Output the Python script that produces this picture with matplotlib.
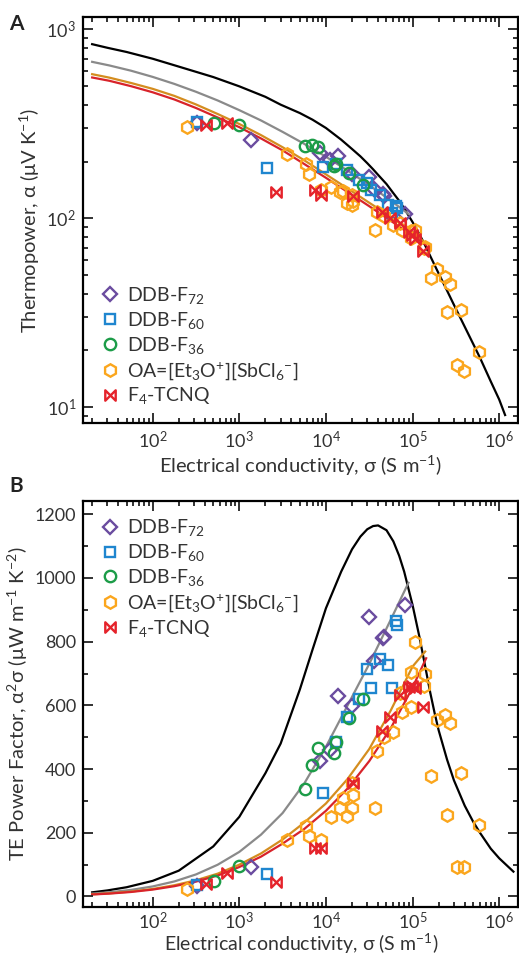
import matplotlib
matplotlib.use('Agg')
import matplotlib.pyplot as plt
import numpy as np
from matplotlib.path import Path
from matplotlib.ticker import MultipleLocator, LogLocator

plt.rcParams['font.family'] = ['Lato', 'DejaVu Sans']
plt.rcParams['mathtext.default'] = 'regular'

# ---- measured points: conductivity (S/m), thermopower (uV/K), power factor (uW m-1 K-2)
f72_sig = [322, 1355, 8560, 11170, 13700, 20230, 31800, 36000, 46960, 45300, 82100]
f72_alpha = [320, 261, 222, 203, 214, 172, 166, 143, 132, 134, 106]
f72_pf = [33, 92, 424, 460, 630, 598, 879, 740, 816, 811, 915]

f60_sig = [325, 2073, 9190, 13100, 17400, 24400, 30100, 32900, 42200, 52700, 57600, 64600, 65800]
f60_alpha = [325, 184, 188, 193, 180, 159, 154, 141, 133, 118, 107, 116, 114]
f60_pf = [37, 70, 324, 486, 563, 620, 713, 654, 745, 727, 654, 865, 853]

f36_sig = [511, 1002, 5745, 6861, 8050, 12540, 13100, 18680, 27100]
f36_alpha = [321, 312, 242, 245, 240, 190, 193, 173, 151]
f36_pf = [50, 97, 338, 413, 465, 452, 486, 560, 619]

oa_sig = [251, 3592, 5900, 6448, 8790, 11470, 14580, 15920, 17400, 19880, 20780, 20230,
          36960, 39330, 47370, 60200, 71900, 76450, 95500, 95500, 107100, 136100, 139800,
          162500, 190500, 237800, 271600, 248700, 363900, 577000, 324300, 387300]
oa_alpha = [305, 220, 193, 172, 141, 147, 138, 139, 121, 118, 124, 133,
            87, 108, 103, 92.5, 94.3, 87, 79, 86, 86.4, 69.7, 70.8,
            48.3, 53.9, 49, 44.8, 32.1, 32.7, 19.7, 16.75, 15.6]
oa_pf = [23, 176, 220, 191, 176, 249, 277, 309, 253, 277, 319, 356,
         279, 457, 502, 515, 640, 578, 594, 706, 800, 661, 700,
         379, 554, 570, 546, 256, 389, 225, 91, 94]

tcnq_sig = [413, 715, 2657, 7500, 8716, 20420, 44150, 55080, 71900, 92100, 98000, 107100, 131400]
tcnq_alpha = [312, 320, 138, 141, 133, 132, 108, 101, 94, 85, 82, 78, 67]
tcnq_pf = [39, 73, 47, 152, 152, 356, 518, 565, 633, 659, 661, 654, 594]

# ---- model curves
blk_sig = [20, 30, 50, 100, 200, 500, 1000, 2000, 3000, 5000, 7000, 1e4, 1.5e4, 2e4, 2.5e4,
           3e4, 3.5e4, 4e4, 5e4, 6e4, 7e4, 8e4, 1e5, 1.2e5, 1.4e5, 1.6e5, 1.8e5, 2e5,
           2.5e5, 3e5, 4e5, 5e5, 6e5, 8e5, 1e6, 1.17e6]
blk_alpha = [836, 800, 760, 700, 636, 560, 500, 440, 400, 361, 333, 301, 261, 233, 213,
             196, 182, 170, 152, 136, 124, 113, 95.6, 82.4, 71.8, 63.2, 56.5, 51.1,
             41.5, 34.9, 26.7, 21.7, 18.3, 13.7, 11, 9.1]
blk_pf_sig = [20, 30, 50, 100, 200, 500, 1000, 2000, 3000, 5000, 7000, 1e4, 1.5e4, 2e4, 2.5e4,
              3e4, 3.5e4, 4e4, 5e4, 6e4, 7e4, 8e4, 1e5, 1.2e5, 1.4e5, 1.6e5, 1.8e5, 2e5,
              2.5e5, 3e5, 4e5, 5e5, 6e5, 8e5, 1e6, 1.46e6]
blk_pf = [13, 19, 29, 49, 81, 157, 250, 387, 480, 650, 775, 905, 1020, 1090, 1130,
          1153, 1163, 1165, 1150, 1115, 1070, 1020, 915, 815, 722, 640, 575, 522,
          430, 365, 285, 235, 200, 150, 120, 78]

gry_sig = [20, 31.6, 56.2, 100, 178, 316, 562, 1000, 1778, 3162, 5623, 1e4, 17780, 31620, 56230, 89700]
gry_alpha = [674, 645, 605, 561, 515, 468, 421, 374, 330, 287, 248, 212, 179, 150, 124, 105.5]
gry_pf = [9.1, 13.1, 20.6, 31.5, 47.2, 69.2, 99.6, 140, 194, 262, 355, 470, 600, 730, 870, 985]

org_sig = [20, 31.6, 56.2, 100, 178, 316, 562, 1000, 1778, 3162, 5623, 1e4, 17780, 31620, 56230, 1e5, 139800]
org_alpha = [580, 556, 521, 485, 445, 401, 357, 316, 276, 238, 203, 171, 144, 121, 102, 85, 74.2]
org_pf = [6.7, 9.8, 15.3, 23.5, 35.2, 50.8, 71.6, 99.9, 135, 179, 232, 292, 369, 463, 585, 722, 769]

red_sig = [20, 31.6, 56.2, 100, 178, 316, 562, 1000, 1778, 3162, 5623, 1e4, 17780, 31620, 56230, 1e5, 143500]
red_alpha = [557, 535, 501, 465, 426, 384, 342, 304, 265, 229, 194, 164, 138, 116, 97, 81, 72.2]
red_pf = [6.2, 9.0, 14.1, 21.6, 32.3, 46.6, 65.7, 92.4, 125, 166, 212, 269, 339, 425, 529, 656, 748]

labels = ['DDB-F$_{72}$', 'DDB-F$_{60}$', 'DDB-F$_{36}$',
          'OA=[Et$_{3}$O$^{+}$][SbCl$_{6}$$^{-}$]', 'F$_{4}$-TCNQ']

bowtie = Path([(-1, -1), (-1, 1), (1, -1), (1, 1), (-1, -1)],
              [Path.MOVETO, Path.LINETO, Path.LINETO, Path.LINETO, Path.CLOSEPOLY])

styles = [
    dict(marker='D', color='#6a4c9f', ms=7.5),
    dict(marker='s', color='#1f86cf', ms=7.5),
    dict(marker='o', color='#1c9c48', ms=8.2),
    dict(marker='h', color='#fba61d', ms=9),
    dict(marker=bowtie, color='#e5232b', ms=7.5),
]

txt = '#333333'

fig = plt.figure(figsize=(5.19, 9.57), dpi=100)
ax1 = fig.add_axes([0.160, 0.558, 0.839, 0.424])
ax2 = fig.add_axes([0.160, 0.0526, 0.839, 0.424])

line_kw = dict(lw=1.6, zorder=1)

# panel A
ax1.plot(blk_sig, blk_alpha, color='black', **line_kw)
ax1.plot(gry_sig, gry_alpha, color='#8a8a8a', **line_kw)
ax1.plot(org_sig, org_alpha, color='#d48d1f', **line_kw)
ax1.plot(red_sig, red_alpha, color='#d8232a', **line_kw)

sets_a = [(f72_sig, f72_alpha), (f60_sig, f60_alpha), (f36_sig, f36_alpha),
          (oa_sig, oa_alpha), (tcnq_sig, tcnq_alpha)]
sets_b = [(f72_sig, f72_pf), (f60_sig, f60_pf), (f36_sig, f36_pf),
          (oa_sig, oa_pf), (tcnq_sig, tcnq_pf)]

for (x, y), st, lab in zip(sets_a, styles, labels):
    ax1.plot(x, y, ls='none', marker=st['marker'], ms=st['ms'], mfc='none',
             mec=st['color'], mew=1.7, label=lab, zorder=3)

# panel B
ax2.plot(blk_pf_sig, blk_pf, color='black', **line_kw)
ax2.plot(gry_sig, gry_pf, color='#8a8a8a', **line_kw)
ax2.plot(org_sig, org_pf, color='#d48d1f', **line_kw)
ax2.plot(red_sig, red_pf, color='#d8232a', **line_kw)

for (x, y), st, lab in zip(sets_b, styles, labels):
    ax2.plot(x, y, ls='none', marker=st['marker'], ms=st['ms'], mfc='none',
             mec=st['color'], mew=1.7, label=lab, zorder=3)

for ax in (ax1, ax2):
    ax.set_xscale('log')
    ax.set_xlim(15.7, 1.67e6)
    ax.xaxis.set_major_locator(LogLocator(base=10, numticks=12))
    ax.xaxis.set_minor_locator(LogLocator(base=10, subs=np.arange(2, 10), numticks=12))
    ax.tick_params(which='both', direction='in', top=True, right=True,
                   width=1.3, labelsize=13, colors='#222222', labelcolor=txt)
    ax.tick_params(which='major', length=7, pad=5)
    ax.tick_params(which='minor', length=3.5)
    for s in ax.spines.values():
        s.set_linewidth(1.6)
    ax.legend(loc='lower left' if ax is ax1 else 'upper left', frameon=False,
              fontsize=14, handletextpad=0.3, handlelength=1.1, labelspacing=0.2,
              borderaxespad=0.45, labelcolor=txt)

# bottom panel sits close to the figure edge, so keep its x labels tight
ax2.tick_params(axis='x', which='major', pad=3)

ax1.set_xlabel('Electrical conductivity, σ (S m$^{-1}$)', fontsize=14.5, color=txt, labelpad=2)
ax2.set_xlabel('Electrical conductivity, σ (S m$^{-1}$)', fontsize=14, color=txt, labelpad=0)

ax1.set_yscale('log')
ax1.set_ylim(8.26, 1161)
ax1.set_ylabel('Thermopower, α (μV K$^{-1}$)', fontsize=14.5, color=txt, labelpad=3)

ax2.set_ylim(-32, 1242)
ax2.yaxis.set_major_locator(MultipleLocator(200))
ax2.yaxis.set_minor_locator(MultipleLocator(100))
ax2.set_ylabel('TE Power Factor, α$^{2}$σ (μW m$^{-1}$ K$^{-2}$)', fontsize=14.5, color=txt, labelpad=3)

fig.text(0.018, 0.975, 'A', fontsize=15, fontweight='bold', va='center', color='#222222')
fig.text(0.018, 0.492, 'B', fontsize=15, fontweight='bold', va='center', color='#222222')

fig.savefig('out.png', dpi=100)
